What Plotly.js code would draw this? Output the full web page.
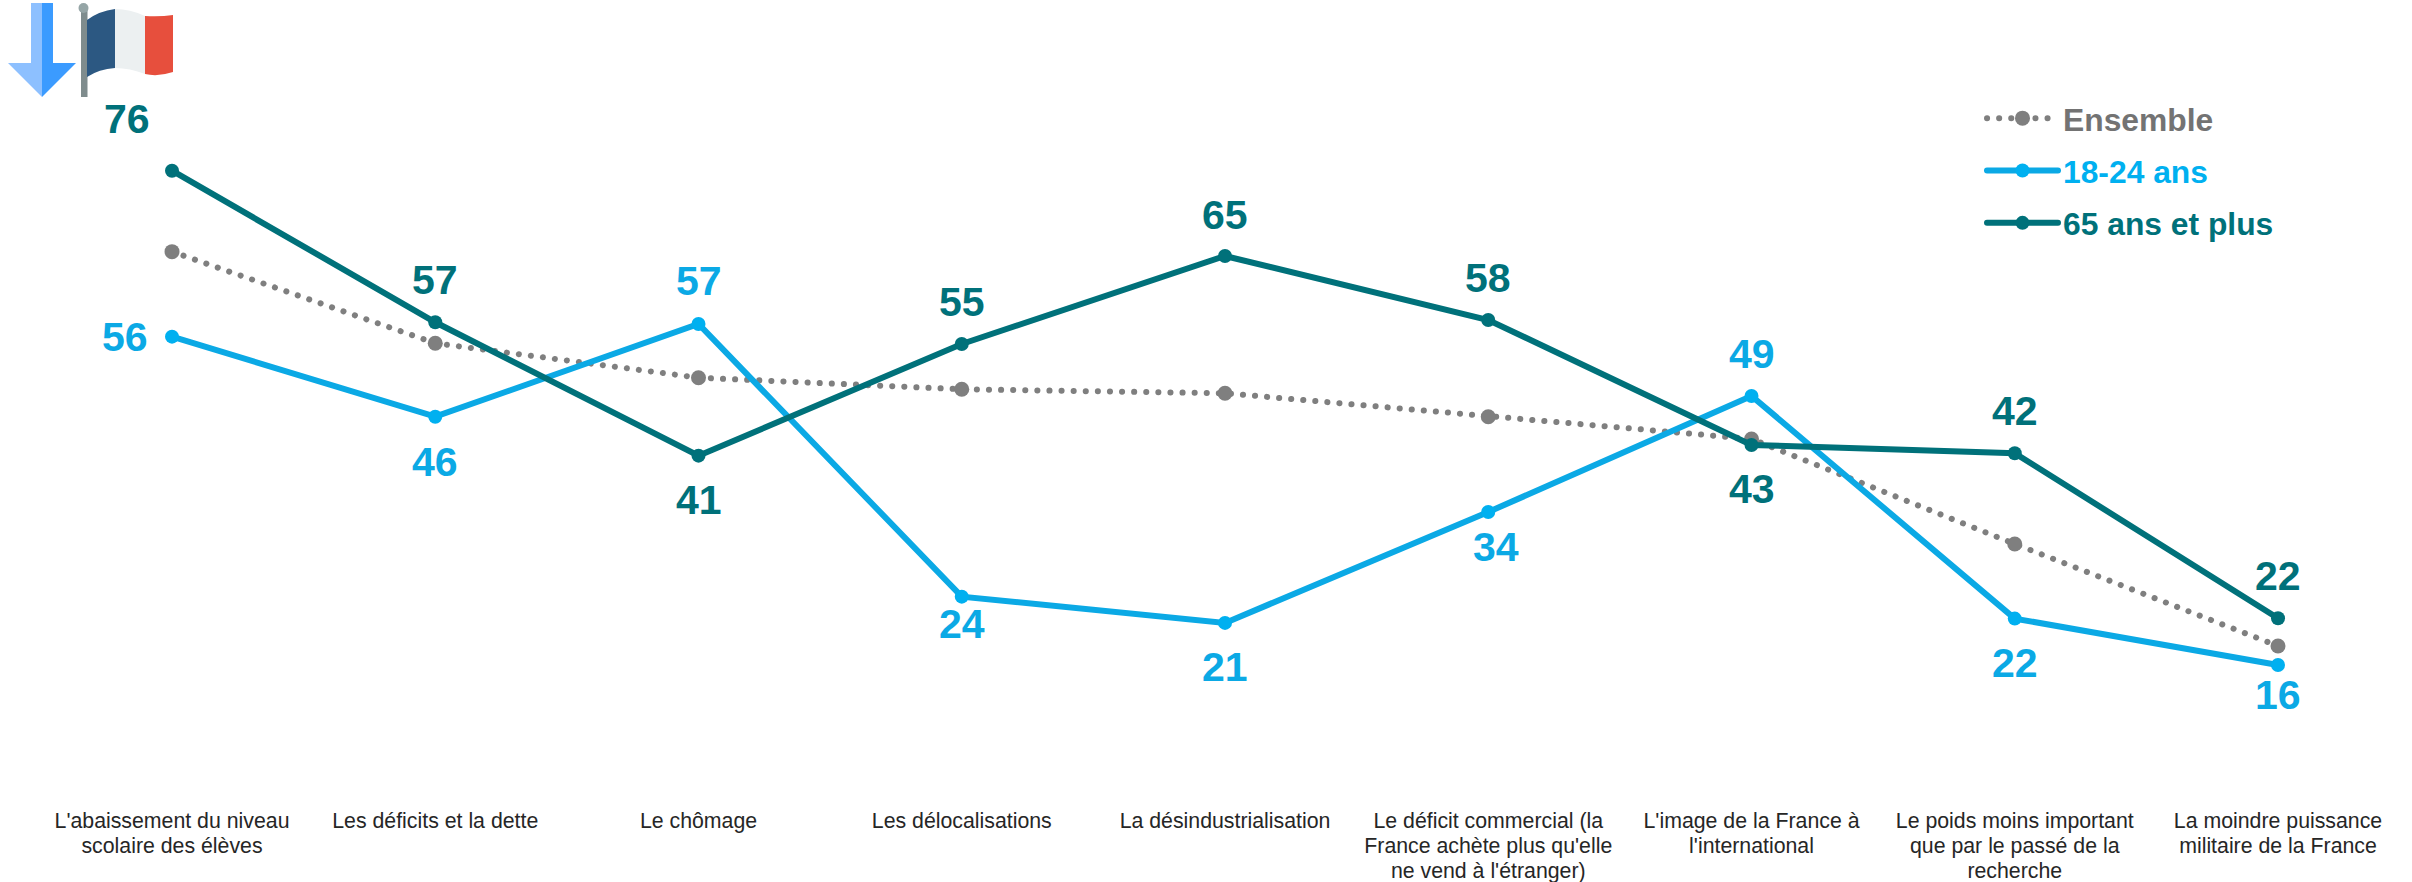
<!DOCTYPE html>
<html><head><meta charset="utf-8">
<script src="https://cdn.plot.ly/plotly-3.0.1.min.js"></script>
<style>html,body{margin:0;padding:0;background:#fff}#c{width:2412px;height:882px}
#c .js-line,#c .legendlines path{stroke-linecap:round}</style>
</head><body><div id="c"></div>
<script>
const categories = ["L'abaissement du niveau<br>scolaire des élèves","Les déficits et la dette","Le chômage","Les délocalisations","La désindustrialisation","Le déficit commercial (la<br>France achète plus qu'elle<br>ne vend à l'étranger)","L'image de la France à<br>l'international","Le poids moins important<br>que par le passé de la<br>recherche","La moindre puissance<br>militaire de la France"];
const ensemble = [65.99,54.9,50.73,49.33,48.85,46.01,43.31,30.6,18.25];
const jeunes = [55.7,46.01,57.23,24.22,21.04,34.47,48.52,21.56,15.95];
const seniors = [75.79,57.44,41.29,54.81,65.47,57.72,42.59,41.58,21.61];
const jeunesLabels = [56,46,57,24,21,34,49,22,16];
const seniorsLabels = [76,57,41,55,65,58,43,42,22];
const jeunesDx = [-47,0,0,0,0,8,0,0,0];
const jeunesDy = [0,-45,43,-27,-44,-35,42,-44,-30];
const seniorsDx = [-45,0,0,0,0,0,0,0,0];
const seniorsDy = [52,42,-44,42,41,42,-44,42,42];
const GRAY='#7F7F7F', BLUE='#0BA9E5', BLUEM='#00B0F0', TEAL='#00717A';
const xs = categories.map((_,i)=>i);
const tickText = categories.map(c=>c.split('<br>').map(l=>'<span style="font-size:21.3px">'+l+'</span>').join('<br>'));
const icon = `<svg xmlns="http://www.w3.org/2000/svg" width="180" height="100" viewBox="0 0 180 100">
<path d="M31 3H42V97L8 63H31Z" fill="#8DC0FF"/><path d="M53 3H42V97L76 63H53Z" fill="#3B9BFF"/>
<rect x="81" y="8" width="6.5" height="89" fill="#7F8C8D"/><circle cx="83.5" cy="8" r="5" fill="#95A5A6"/>
<path d="M87 20Q99 11 115 9V68Q99 69 87 77Z" fill="#2C5882"/>
<path d="M115 9Q130 9 145 16V74Q130 68 115 68Z" fill="#ECF0F1"/>
<path d="M145 16Q160 17 173 15V72Q158 77 145 74Z" fill="#E74F3D"/></svg>`;
function labels(vals,txt,dx,dy,color){
  return vals.map((v,i)=>({x:i,y:v,xref:'x',yref:'y',text:'<b>'+txt[i]+'</b>',showarrow:false,xanchor:'center',yanchor:'middle',xshift:dx[i],yshift:dy[i],font:{family:'Liberation Sans, Arial, sans-serif',size:41,color:color}}));
}
function tr(name,y,color,mcolor,tcolor,dash,width,ms){
  return {type:'scatter',mode:'lines+markers',x:xs,y:y,name:'<span style="color:'+tcolor+'">'+name+'</span>',legendgroup:name,
    line:{color:color,width:width,dash:dash},marker:{color:mcolor,size:ms},hoverinfo:'skip'};
}
Plotly.newPlot('c',[
  tr('Ensemble',ensemble,GRAY,GRAY,'#737373','0.1px,12px',6,15),
  tr('18-24 ans',jeunes,BLUE,BLUEM,BLUEM,'solid',6,14),
  tr('65 ans et plus',seniors,TEAL,TEAL,TEAL,'solid',6,14)],{
  width:2412,height:882,paper_bgcolor:'#fff',plot_bgcolor:'#fff',
  margin:{l:0,r:0,t:0,b:110,pad:0},
  xaxis:{range:[-0.6534,8.509],tickmode:'array',tickvals:xs,ticktext:tickText,ticks:'',showgrid:false,zeroline:false,showline:false,automargin:false,tickangle:0,ticklabelstandoff:35,
    tickfont:{family:'Liberation Sans, Arial, sans-serif',size:19.5,color:'#262626'}},
  yaxis:{range:[2.99,96.46],visible:false,showgrid:false,zeroline:false},
  legend:{x:1982/2412,xanchor:'left',y:1-(91/772),yanchor:'top',bgcolor:'rgba(0,0,0,0)',itemwidth:71,tracegroupgap:8,itemclick:false,itemdoubleclick:false,
    font:{family:'Liberation Sans, Arial, sans-serif',size:31.8,weight:700}},
  annotations:[...labels(jeunes,jeunesLabels,jeunesDx,jeunesDy,BLUE),...labels(seniors,seniorsLabels,seniorsDx,seniorsDy,TEAL)],
  images:[{source:'data:image/svg+xml;utf8,'+encodeURIComponent(icon),xref:'paper',yref:'paper',x:0,y:1,xanchor:'left',yanchor:'top',sizex:180/2412,sizey:100/772,sizing:'stretch',layer:'above'}]
},{displayModeBar:false,staticPlot:true});
</script></body></html>
